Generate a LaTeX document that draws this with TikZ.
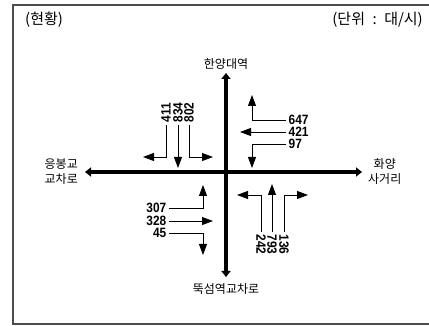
\documentclass[tikz,border=0pt]{standalone}
\usepackage{fontspec}
\newfontfamily\kr{Noto Sans CJK KR}
\newfontfamily\numfont[FakeStretch=0.88]{Liberation Sans Bold}
\usetikzlibrary{arrows.meta}
\begin{document}
\begin{tikzpicture}[x=1pt,y=1pt]
\tikzstyle{road}=[line width=4pt,{Triangle[width=9pt,length=6pt]}-{Triangle[width=9pt,length=6pt]}];
\tikzstyle{move}=[line width=0.8pt,-{Triangle[width=8pt,length=11pt]}];
\tikzstyle{num}=[font=\numfont\fontsize{13.5}{14}\selectfont,inner sep=0.5pt];
\tikzstyle{place}=[font=\kr\fontsize{12}{15}\selectfont,align=center,inner sep=0pt];
\tikzstyle{title}=[font=\kr\fontsize{15}{17}\selectfont,inner sep=0pt];
\useasboundingbox (0,0) rectangle (429,326);
\draw [line width=1.5pt,black!70] (13,321) rectangle (432,2);
\node [title,anchor=west] (now) at (25,306) {(현황)};
\node [title,anchor=east] (unit) at (423,306) {(단위\hspace{0.5em}:\hspace{0.5em}대/시)};

% roads
\coordinate (n) at (226,253);
\coordinate (s) at (226,49);
\coordinate (w) at (85,154);
\coordinate (e) at (362,154);
\draw [road] (s) -- (n);
\draw [road] (w) -- (e);
\node [place,anchor=south] (north) at (226,256) {한양대역};
\node [place] (south) at (226,37) {뚝섬역교차로};
\node [place,anchor=east] (west) at (78,154) {응봉교\\교차로};
\node [place,anchor=west] (east) at (368,154) {화양\\사거리};

% from north
\node [num,rotate=90,anchor=west] (v411) at (166,203) {411};
\coordinate (t411) at (143,169);
\draw [move] (v411.west) ++(0,-2) |- (t411);
\node [num,rotate=90,anchor=west] (v834) at (178,203) {834};
\coordinate (t834) at (178,158);
\draw [move] (v834.west) ++(0,-2) -- (t834);
\node [num,rotate=90,anchor=west] (v802) at (189,203) {802};
\coordinate (t802) at (213,169);
\draw [move] (v802.west) ++(0,-2) |- (t802);

% from east
\node [num,anchor=west] (v647) at (288,206) {647};
\coordinate (t647) at (252,231);
\draw [move] (v647.west) ++(-2,0) -| (t647);
\node [num,anchor=west] (v421) at (288,194) {421};
\coordinate (t421) at (240,194);
\draw [move] (v421.west) ++(-2,0) -- (t421);
\node [num,anchor=west] (v97) at (288,182) {97};
\coordinate (t97) at (252,158);
\draw [move] (v97.west) ++(-2,0) -| (t97);

% from west
\node [num,anchor=east] (v307) at (167,118) {307};
\coordinate (t307) at (203,141);
\draw [move] (v307.east) ++(2,0) -| (t307);
\node [num,anchor=east] (v328) at (167,105) {328};
\coordinate (t328) at (213,105);
\draw [move] (v328.east) ++(2,0) -- (t328);
\node [num,anchor=east] (v45) at (167,93) {45};
\coordinate (t45) at (203,71);
\draw [move] (v45.east) ++(2,0) -| (t45);

% from south
\node [num,rotate=-90,anchor=west] (v242) at (261,92) {242};
\coordinate (t242) at (237,131);
\draw [move] (v242.west) ++(0,2) |- (t242);
\node [num,rotate=-90,anchor=west] (v793) at (272,92) {793};
\coordinate (t793) at (272,142);
\draw [move] (v793.west) ++(0,2) -- (t793);
\node [num,rotate=-90,anchor=west] (v136) at (284,92) {136};
\coordinate (t136) at (308,131);
\draw [move] (v136.west) ++(0,2) |- (t136);
\end{tikzpicture}
\end{document}
